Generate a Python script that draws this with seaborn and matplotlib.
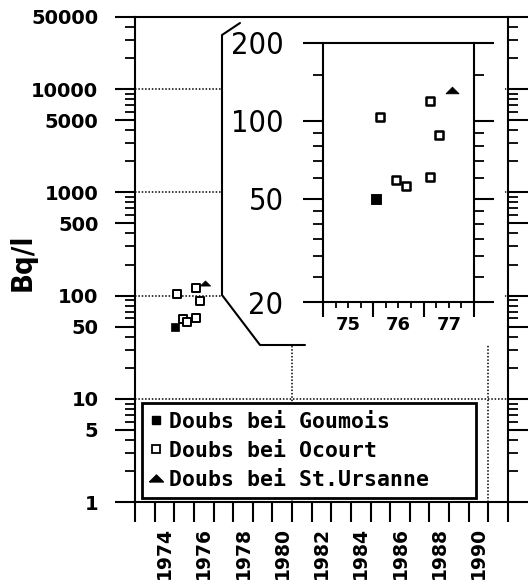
import matplotlib
matplotlib.use("Agg")
import matplotlib.pyplot as plt
import numpy as np
import pandas as pd
import seaborn as sns
from matplotlib.lines import Line2D
from matplotlib.patches import Polygon
from matplotlib import font_manager

# Tritium activity (Bq/l) at three stations on the Doubs, by decimal year
goumois_year = [1975.05]
goumois_bq = [50]
ocourt_year = [1975.13, 1975.46, 1975.65, 1976.13, 1976.13, 1976.31]
ocourt_bq = [104, 59, 56, 61, 119, 88]
ursanne_year = [1976.56]
ursanne_bq = [132]

station_names = ["Doubs bei Goumois", "Doubs bei Ocourt", "Doubs bei St.Ursanne"]

main_yticks = [1, 5, 10, 50, 100, 500, 1000, 5000, 10000, 50000]
main_decades = [10, 100, 1000, 10000]
main_year_labels = list(range(1974, 1991, 2))
inset_yticks = [20, 50, 100, 200]
inset_yminor = [25, 30, 35, 40, 45, 60, 70, 80, 90, 150]
inset_year_labels = ["75", "76", "77"]

df = pd.DataFrame({
    "year": goumois_year + ocourt_year + ursanne_year,
    "bq": goumois_bq + ocourt_bq + ursanne_bq,
    "station": [station_names[0]] * len(goumois_year)
    + [station_names[1]] * len(ocourt_year)
    + [station_names[2]] * len(ursanne_year),
})

sns.set_style("ticks")
plt.rcParams["font.family"] = ["DejaVu Sans"]
plt.rcParams["font.weight"] = "bold"
plt.rcParams["axes.linewidth"] = 1.5
for key in ("text.color", "axes.labelcolor", "xtick.color", "ytick.color",
            "axes.edgecolor"):
    plt.rcParams[key] = "black"

# pick a narrow face for the inset scale if one is installed
narrow = None
for f in font_manager.fontManager.ttflist:
    if f.name in ("Liberation Sans Narrow", "DejaVu Sans Condensed") or \
            (f.name == "DejaVu Sans" and f.stretch == "condensed"):
        narrow = f
        break
if narrow is not None:
    narrow_kw = dict(family=narrow.name, stretch=narrow.stretch)
else:
    narrow_kw = dict(family="DejaVu Sans")

flat_tri = [(-1, -0.5), (1, -0.5), (0, 0.5), (-1, -0.5)]
styles = {
    station_names[0]: dict(marker="s", face="black", lw=0.5, s=32),
    station_names[1]: dict(marker="s", face="white", lw=1.4, s=26),
    station_names[2]: dict(marker=flat_tri, face="black", lw=0.5, s=55),
}

W, H = 529, 585
fig = plt.figure(figsize=(W / 100, H / 100), dpi=100)


def fig_rect(x0, y0, x1, y1):
    return [x0 / W, (H - y1) / H, (x1 - x0) / W, (y1 - y0) / H]


def draw_points(ax, scale):
    for name, st in styles.items():
        sub = df[df["station"] == name]
        sns.scatterplot(data=sub, x="year", y="bq", ax=ax, marker=st["marker"],
                        s=st["s"] * scale, color=st["face"], edgecolor="black",
                        linewidth=st["lw"] * (1 if scale == 1 else 1.3),
                        legend=False, zorder=5)
    ax.set_xlabel("")
    ax.set_ylabel("")


# ---- main panel ----
ax = fig.add_axes(fig_rect(135, 17, 508, 502))
ax.set_yscale("log")
ax.set_ylim(1, 50000)
ax.set_xlim(1973, 1992)
draw_points(ax, 1)

for v in main_decades:
    ax.axhline(v, color="black", lw=1.1, ls=(0, (1, 1.2)), zorder=1)
for v in (1981, 1991):
    ax.axvline(v, color="black", lw=1.1, ls=(0, (1, 1.2)), zorder=1)

ax.set_yticks(main_yticks, [str(v) for v in main_yticks])
ax.yaxis.set_minor_locator(matplotlib.ticker.LogLocator(base=10, subs=np.arange(2, 10)))
ax.yaxis.set_minor_formatter(matplotlib.ticker.NullFormatter())
ax.tick_params(axis="y", which="major", direction="out", length=14.4, width=1.5,
               left=True, right=True, labelsize=14, pad=12)
ax.tick_params(axis="y", which="minor", direction="out", length=7.2, width=1.3,
               left=True, right=True)

ax.set_xticks(list(range(1973, 1993)), [""] * 20)
ax.set_xticks([y + 0.5 for y in main_year_labels],
              [str(y) for y in main_year_labels], minor=True)
ax.tick_params(axis="x", which="major", direction="out", length=14.4, width=1.5)
ax.tick_params(axis="x", which="minor", length=0, labelsize=13.5, pad=18,
               labelrotation=90)

ax.set_ylabel("Bq/l", fontsize=21 if narrow is not None else 19,
              fontweight="bold", **narrow_kw)
ax.yaxis.set_label_coords(-0.265, 0.495)

# callout frame linking the inset to the main panel
def fpx(x, y):
    return (x / W, (H - y) / H)

fill_pts = [fpx(222, 19), fpx(222, 295), fpx(260, 345), fpx(505, 345),
            fpx(505, 338), fpx(505, 19)]
fig.patches.append(Polygon(fill_pts, closed=True, facecolor="white",
                           edgecolor="none", transform=fig.transFigure, zorder=1.5))
outline = [fpx(240, 23), fpx(222, 35), fpx(222, 295), fpx(260, 345), fpx(305, 345)]
fig.lines.append(Line2D([p[0] for p in outline], [p[1] for p in outline],
                        color="black", lw=1.5, transform=fig.transFigure, zorder=3))

# legend
handles = [
    Line2D([], [], ls="none", marker="s", markersize=6, markerfacecolor="black",
           markeredgecolor="black"),
    Line2D([], [], ls="none", marker="s", markersize=6, markerfacecolor="white",
           markeredgecolor="black", markeredgewidth=1.3),
    Line2D([], [], ls="none", marker=flat_tri, markersize=10,
           markerfacecolor="black", markeredgecolor="black"),
]
leg = ax.legend(handles, station_names, loc="upper left",
                bbox_to_anchor=(7 / 373, 5 / 485, 334 / 373, 94 / 485),
                mode="expand", borderaxespad=0, frameon=True, fancybox=False,
                handlelength=0.5, handletextpad=0.35, borderpad=0.4,
                labelspacing=0.42,
                prop=dict(family="DejaVu Sans Mono", weight="bold", size=15.5))
leg.get_frame().set_edgecolor("black")
leg.get_frame().set_linewidth(2)
leg.get_frame().set_alpha(1)
leg.set_zorder(6)

# ---- inset: close-up of the measurements ----
ai = fig.add_axes(fig_rect(323, 43, 474, 302))
ai.set_zorder(4)
ai.set_yscale("log")
ai.set_ylim(20, 200)
ai.set_xlim(1974, 1977)
draw_points(ai, 1.6)

ai.set_yticks(inset_yticks, [str(v) for v in inset_yticks],
              fontweight="normal", fontsize=22 if narrow is not None else 20,
              **narrow_kw)
ai.yaxis.set_minor_locator(matplotlib.ticker.FixedLocator(inset_yminor))
ai.yaxis.set_minor_formatter(matplotlib.ticker.NullFormatter())
ai.tick_params(axis="y", which="major", direction="out", length=14.4, width=1.5,
               left=True, right=True, pad=14)
ai.tick_params(axis="y", which="minor", direction="out", length=7.2, width=1.3,
               left=True, right=True)

ai.set_xticks([1974, 1975, 1976, 1977], [""] * 4)
quarters = [1974 + k * 0.25 for k in range(1, 12) if k % 4 != 0]
qlabels = []
for q in quarters:
    if abs(q - round(q - 0.5) - 0.5) < 1e-9:
        qlabels.append(inset_year_labels[int(q - 1974.5)])
    else:
        qlabels.append("")
ai.set_xticks(quarters, qlabels, minor=True)
ai.tick_params(axis="x", which="major", direction="out", length=11, width=1.5)
ai.tick_params(axis="x", which="minor", direction="out", length=4.3, width=1.3,
               labelsize=13, pad=6)

fig.savefig("out.png", dpi=100, facecolor="white")
